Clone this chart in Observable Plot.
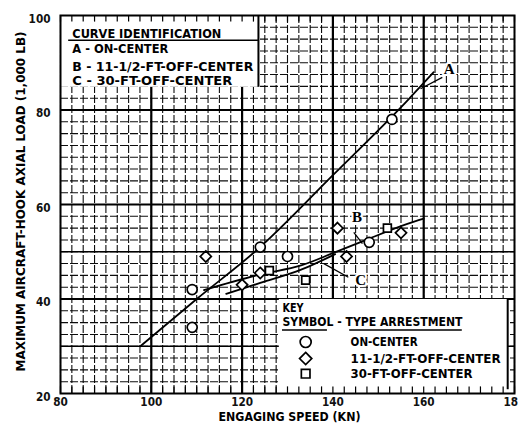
<!DOCTYPE html>
<html><head><meta charset="utf-8">
<script src="https://cdn.jsdelivr.net/npm/d3@7"></script>
<script src="https://cdn.jsdelivr.net/npm/@observablehq/plot@0.6"></script>
<style>
body{margin:0;background:#fff;}
</style></head><body><div id="chart"></div>
<script>
// ---- data ----
const onCenterSpeed = [109, 109, 124, 130, 148, 153];
const onCenterLoad  = [42, 34, 51, 49, 52, 78];
const off11Speed = [112, 120, 124, 141, 143, 155];
const off11Load  = [49, 43, 45.5, 55, 49, 54];
const off30Speed = [126, 134, 152];
const off30Load  = [46, 44, 55];
const curveASpeed = [97.6, 110, 124, 140, 156.4, 162.2];
const curveALoad  = [30, 40, 51, 66.2, 82, 88];
const curveBSpeed = [111.6, 124, 133, 140, 146.5, 156.4, 160];
const curveBLoad  = [41.9, 45.2, 47.1, 49.7, 52.2, 55.9, 57];
const curveCSpeed = [116.5, 124, 133, 140.5];
const curveCLoad  = [41.1, 43.4, 46.2, 49.5];
const curveNames = ["A", "B", "C"];
const curveIdLines = ["A - ON-CENTER", "B - 11-1/2-FT-OFF-CENTER", "C - 30-FT-OFF-CENTER"];
const keyLabels = ["ON-CENTER", "11-1/2-FT-OFF-CENTER", "30-FT-OFF-CENTER"];
const keySymbols = ["circle", "diamond2", "square2"];
const xTicks = [80, 100, 120, 140, 160, 180];
const yTicks = [20, 40, 60, 80, 100];
const xTitle = "ENGAGING SPEED (KN)";
const yTitle = "MAXIMUM AIRCRAFT-HOOK AXIAL LOAD (1,000 LB)";

// ---- layout (annotation positions in data units, text widths in px) ----
const L = {
  labelPos: [[165.6, 88.7], [145.3, 57.3], [146.1, 43.9]],
  leaders: [[[159.3, 84.5], [164.1, 86.9]], [[144.6, 54.1], [146.5, 51.7]], [[143.4, 44.6], [138, 47.5]]],
  idBox: {x1: 80, x2: 123.6, y1: 84.8, y2: 100},
  idX: 82.6, idHeaderY: 96.1, idRowsY: [93.0, 89.2, 86.1], idUnderY: 94.75,
  keyBox: {x1: 128.2, x2: 178.5, y1: 20, y2: 39.9},
  keyX: 128.9, keyTitleY: 38.1, keyHeadY: 35.1, keyUnderY: 33.45,
  keySymX: 134, keyTextX: 143.9, keyRowsY: [30.9, 27.4, 24.2]
};
const textWidths = {
  "MAXIMUM AIRCRAFT-HOOK AXIAL LOAD (1,000 LB)": 340,
  "ENGAGING SPEED (KN)": 142,
  "CURVE IDENTIFICATION": 149,
  "A - ON-CENTER": 96,
  "B - 11-1/2-FT-OFF-CENTER": 181,
  "C - 30-FT-OFF-CENTER": 160,
  "KEY": 21,
  "SYMBOL - TYPE ARRESTMENT": 180,
  "ON-CENTER": 67,
  "11-1/2-FT-OFF-CENTER": 150,
  "30-FT-OFF-CENTER": 122
};
const tickCharWidth = 7.3;

const F = "'DejaVu Sans Condensed', 'DejaVu Sans', sans-serif";
const minorX = d3.range(80, 180.01, 2.5);
const minorY = d3.range(20, 100.01, 2.5);
const pts = (xs, ys, s) => xs.map((x, i) => ({x, y: ys[i], s}));
const points = [
  ...pts(onCenterSpeed, onCenterLoad, "circle"),
  ...pts(off11Speed, off11Load, "diamond2"),
  ...pts(off30Speed, off30Load, "square2")
];
const line = (xs, ys) => xs.map((x, i) => ({x, y: ys[i]}));
const leaderSegs = L.leaders.map(([a, b]) => ({x1: a[0], y1: a[1], x2: b[0], y2: b[1]}));
const gridStyle = {stroke: "#000", strokeWidth: 1.1, strokeOpacity: 0.95, strokeDasharray: "8,2"};

const plot = Plot.plot({
  width: 518, height: 425,
  marginTop: 15, marginBottom: 32, marginLeft: 60, marginRight: 4,
  style: {fontFamily: F, fontWeight: "bold", color: "#111", background: "white", overflow: "visible"},
  x: {domain: [80, 180]},
  y: {domain: [20, 100]},
  marks: [
    // grid
    Plot.ruleX(minorX, gridStyle),
    Plot.ruleY(minorY, gridStyle),
    Plot.ruleX([100, 120, 140, 160], {stroke: "#000", strokeWidth: 2.2}),
    Plot.ruleY([40, 60, 80], {stroke: "#000", strokeWidth: 2.2}),
    Plot.ruleY([30, 50], {stroke: "#000", strokeWidth: 1.6}),
    // legend boxes
    Plot.rect([L.idBox], {x1: "x1", x2: "x2", y1: "y1", y2: "y2", fill: "white"}),
    Plot.rect([L.keyBox], {x1: "x1", x2: "x2", y1: "y1", y2: "y2", fill: "white"}),
    Plot.ruleX([L.idBox.x2], {y1: L.idBox.y1, y2: L.idBox.y2, stroke: "#000", strokeWidth: 2}),
    Plot.ruleX([L.keyBox.x2], {y1: 20.8, y2: L.keyBox.y2, stroke: "#000", strokeWidth: 2}),
    Plot.ruleX(minorX, {y1: 20, y2: 21.4, stroke: "#000", strokeWidth: 1.2}),
    Plot.ruleX(minorX, {y1: 98.6, y2: 100, stroke: "#000", strokeWidth: 1.2}),
    // curves
    Plot.line(line(curveASpeed, curveALoad), {x: "x", y: "y", stroke: "#000", strokeWidth: 1.8, curve: "monotone-x"}),
    Plot.line(line(curveBSpeed, curveBLoad), {x: "x", y: "y", stroke: "#000", strokeWidth: 1.8, curve: "monotone-x"}),
    Plot.line(line(curveCSpeed, curveCLoad), {x: "x", y: "y", stroke: "#000", strokeWidth: 1.8, curve: "monotone-x"}),
    Plot.link(leaderSegs, {x1: "x1", y1: "y1", x2: "x2", y2: "y2", stroke: "#000", strokeWidth: 1.3}),
    // data points
    Plot.dot(points, {x: "x", y: "y", symbol: "s", r: 5, fill: "white", stroke: "#000", strokeWidth: 1.7}),
    // curve labels
    Plot.text(curveNames, {x: (d, i) => L.labelPos[i][0], y: (d, i) => L.labelPos[i][1], text: d => d,
      fontFamily: "'Liberation Serif', serif", fontWeight: "bold", fontSize: 15, fill: "#000", stroke: "white", strokeWidth: 4}),
    // curve identification box
    Plot.text(["CURVE IDENTIFICATION"], {x: L.idX, y: L.idHeaderY, text: d => d, textAnchor: "start", fontSize: 12.5, fill: "#000"}),
    Plot.ruleY([L.idUnderY], {x1: 81.8, x2: L.idBox.x2, stroke: "#000", strokeWidth: 1.6}),
    Plot.text(curveIdLines, {x: L.idX, y: (d, i) => L.idRowsY[i], text: d => d, textAnchor: "start", fontSize: 13, fill: "#000"}),
    // key box
    Plot.text(["KEY"], {x: L.keyX, y: L.keyTitleY, text: d => d, textAnchor: "start", fontSize: 13, fill: "#000"}),
    Plot.text(["SYMBOL - TYPE ARRESTMENT"], {x: L.keyX, y: L.keyHeadY, text: d => d, textAnchor: "start", fontSize: 13, fill: "#000"}),
    Plot.ruleY([L.keyUnderY], {x1: 128.9, x2: 138.8, stroke: "#000", strokeWidth: 1.4}),
    Plot.ruleY([L.keyUnderY], {x1: 143.7, x2: 168.5, stroke: "#000", strokeWidth: 1.4}),
    Plot.dot(keySymbols, {x: L.keySymX, y: (d, i) => L.keyRowsY[i], symbol: d => d, r: 5.5, fill: "white", stroke: "#000", strokeWidth: 1.7}),
    Plot.text(keyLabels, {x: L.keyTextX, y: (d, i) => L.keyRowsY[i], text: d => d, textAnchor: "start", fontSize: 13, fill: "#000"}),
    // axes
    Plot.axisX(xTicks, {tickSize: 0, tickPadding: 3, fontSize: 13, fontWeight: "bold", label: null}),
    Plot.axisY(yTicks, {tickSize: 0, tickPadding: 10, dy: 3, fontSize: 13, fontWeight: "bold", label: null}),
    Plot.text([xTitle], {frameAnchor: "bottom", lineAnchor: "middle", textAnchor: "middle", dy: 23.5, dx: 2, text: d => d, fontSize: 12, fill: "#000"}),
    Plot.text([yTitle], {frameAnchor: "left", textAnchor: "middle", lineAnchor: "middle", dx: -40, dy: -3, rotate: -90, text: d => d, fontSize: 13, fill: "#000"}),
    Plot.frame({stroke: "#000", strokeWidth: 2})
  ]
});
// compress lettering to the widths measured on the reference
plot.querySelectorAll("text").forEach(t => {
  const s = t.textContent;
  if (textWidths[s] != null) {
    t.setAttribute("textLength", textWidths[s]);
    t.setAttribute("lengthAdjust", "spacingAndGlyphs");
  }
});
plot.querySelectorAll('g[aria-label$="tick label"] text').forEach(t => {
  t.setAttribute("textLength", tickCharWidth * t.textContent.length);
  t.setAttribute("lengthAdjust", "spacingAndGlyphs");
});
document.getElementById("chart").appendChild(plot);
</script></body></html>
